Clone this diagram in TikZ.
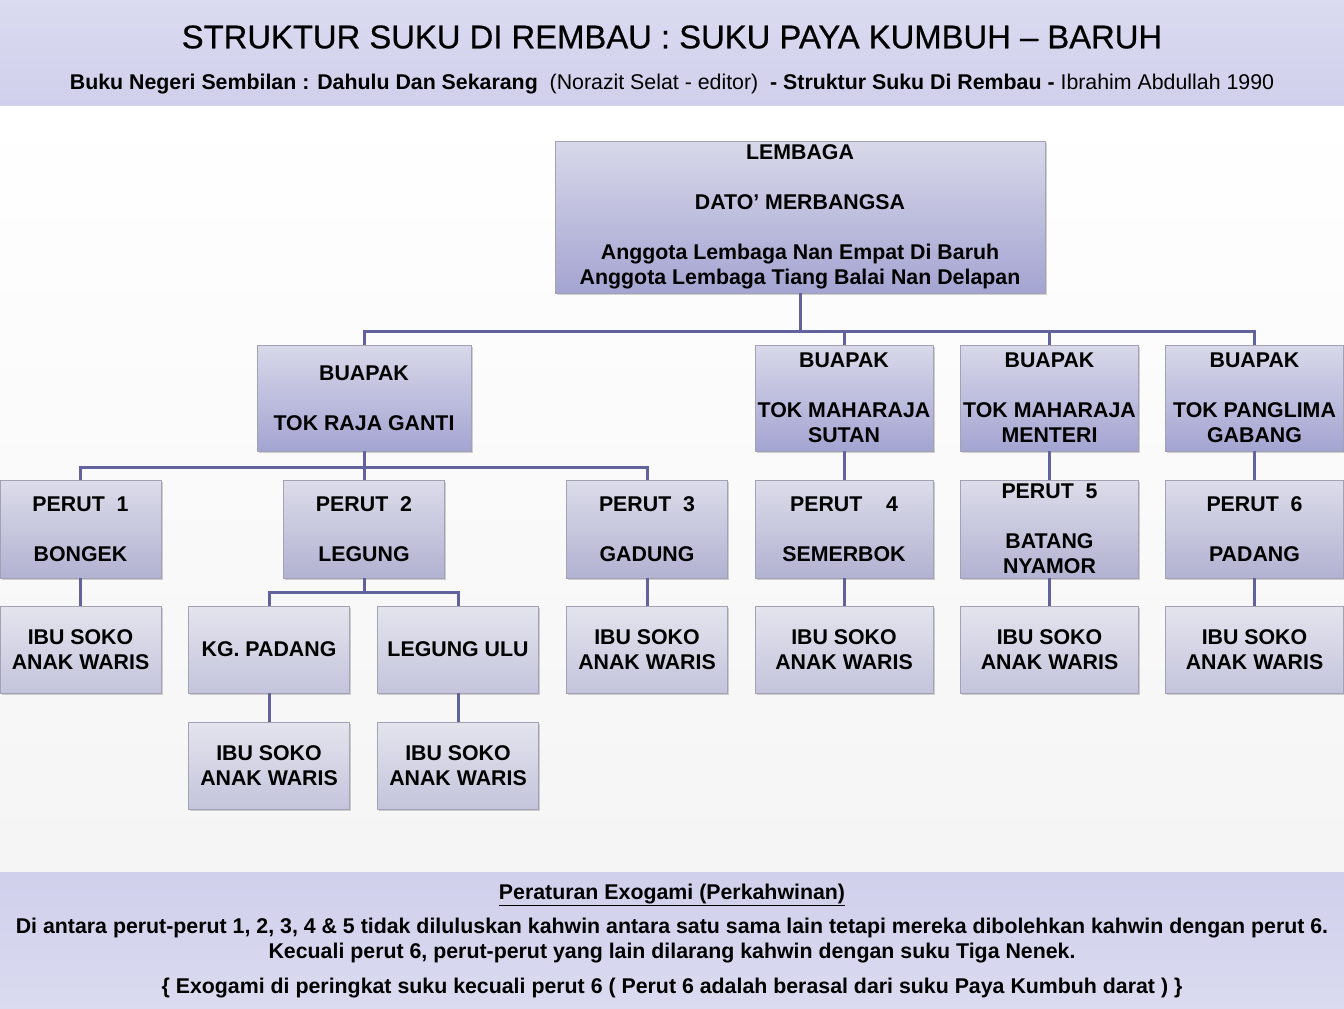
\documentclass[tikz,border=0pt]{standalone}
\usepackage{fontspec}
\setmainfont{Liberation Sans}
\usetikzlibrary{shadows}
\definecolor{band}{HTML}{D0D0EC}
\definecolor{bandtop}{HTML}{DADAF0}
\definecolor{linkcol}{HTML}{62629C}
\definecolor{edge}{HTML}{A2A2B4}
\definecolor{upTop}{HTML}{D8D8EA}
\definecolor{upBot}{HTML}{A4A4D2}
\definecolor{midTop}{HTML}{DCDCEA}
\definecolor{midBot}{HTML}{B2B2D2}
\definecolor{lowTop}{HTML}{E4E4EE}
\definecolor{lowBot}{HTML}{C4C4DC}
\begin{document}
\begin{tikzpicture}[
  x=0.75pt, y=-0.75pt,
  box/.style={rectangle, draw=edge, line width=0.6pt, align=center, inner sep=0pt,
    font=\fontsize{16}{18.75}\selectfont\bfseries,
    drop shadow={shadow xshift=1.2pt, shadow yshift=-1.2pt, opacity=0.35}},
  upper/.style={box, top color=upTop, bottom color=upBot},
  middle/.style={box, top color=midTop, bottom color=midBot},
  lower/.style={box, top color=lowTop, bottom color=lowBot},
  wide/.style={minimum width=133.5pt},
  narrow/.style={minimum width=120.75pt},
  link/.style={draw=linkcol, line width=2.25pt},
  rule/.style={font=\fontsize{16}{19}\selectfont\bfseries}
]
  % bands and page
  \useasboundingbox (0,0) rectangle (1344,1008);
  \shade[top color=white, bottom color=black!4] (0,105) rectangle (1344,872);
  \shade[top color=bandtop, bottom color=band] (0,0) rectangle (1344,105);
  \shade[top color=band, bottom color=bandtop] (0,872) rectangle (1344,1008);

  \node (title) at (672,37) {\fontsize{24.6}{28}\selectfont\addfontfeature{FakeBold=0.6}STRUKTUR SUKU DI REMBAU : SUKU PAYA KUMBUH -- BARUH};
  \node (src) at (672,84) {\fontsize{16}{19}\selectfont \textbf{Buku Negeri Sembilan : Dahulu Dan Sekarang}\ \ (Norazit Selat - editor)\ \ \textbf{- Struktur Suku Di Rembau -} Ibrahim Abdullah 1990};

  % top
  \node[upper, minimum width=367.5pt, minimum height=114pt] (lem) at (800,217)
    {LEMBAGA\\[18.75pt] DATO’ MERBANGSA\\[18.75pt] Anggota Lembaga Nan Empat Di Baruh\\ Anggota Lembaga Tiang Balai Nan Delapan};

  % buapak
  \node[upper, minimum width=160.5pt, minimum height=79.5pt] (bp1) at (364,398) {BUAPAK\\[18.75pt] TOK RAJA GANTI};
  \node[upper, wide, minimum height=79.5pt] (bp2) at (844,398) {BUAPAK\\[18.75pt] TOK MAHARAJA\\ SUTAN};
  \node[upper, wide, minimum height=79.5pt] (bp3) at (1049.5,398) {BUAPAK\\[18.75pt] TOK MAHARAJA\\ MENTERI};
  \node[upper, wide, minimum height=79.5pt] (bp4) at (1254.5,398) {BUAPAK\\[18.75pt] TOK PANGLIMA\\ GABANG};

  % perut
  \node[middle, narrow, minimum height=73.5pt] (pr1) at (80.5,529) {PERUT\ \ 1\\[18.75pt] BONGEK};
  \node[middle, narrow, minimum height=73.5pt] (pr2) at (364,529) {PERUT\ \ 2\\[18.75pt] LEGUNG};
  \node[middle, narrow, minimum height=73.5pt] (pr3) at (647,529) {PERUT\ \ 3\\[18.75pt] GADUNG};
  \node[middle, wide, minimum height=73.5pt] (pr4) at (844,529) {PERUT\ \ \ \ 4\\[18.75pt] SEMERBOK};
  \node[middle, wide, minimum height=73.5pt] (pr5) at (1049.5,529) {PERUT\ \ 5\\[18.75pt] BATANG\\ NYAMOR};
  \node[middle, wide, minimum height=73.5pt] (pr6) at (1254.5,529) {PERUT\ \ 6\\[18.75pt] PADANG};

  % kampung under perut 2
  \node[lower, narrow, minimum height=65.25pt] (kg) at (269,649.5) {KG. PADANG};
  \node[lower, narrow, minimum height=65.25pt] (lu) at (458,649.5) {LEGUNG ULU};

  % ibu soko
  \node[lower, narrow, minimum height=65.25pt] (ib1) at (80.5,649.5) {IBU SOKO\\ ANAK WARIS};
  \node[lower, narrow, minimum height=65.25pt] (ibk) at (269,765.5) {IBU SOKO\\ ANAK WARIS};
  \node[lower, narrow, minimum height=65.25pt] (ibl) at (458,765.5) {IBU SOKO\\ ANAK WARIS};
  \node[lower, narrow, minimum height=65.25pt] (ib3) at (647,649.5) {IBU SOKO\\ ANAK WARIS};
  \node[lower, wide, minimum height=65.25pt] (ib4) at (844,649.5) {IBU SOKO\\ ANAK WARIS};
  \node[lower, wide, minimum height=65.25pt] (ib5) at (1049.5,649.5) {IBU SOKO\\ ANAK WARIS};
  \node[lower, wide, minimum height=65.25pt] (ib6) at (1254.5,649.5) {IBU SOKO\\ ANAK WARIS};

  % junctions
  \coordinate (j0) at (800,331);
  \coordinate (j1) at (364,467);
  \coordinate (j2) at (364,592);

  \draw[link] (lem.south) -- (j0);
  \draw[link] (j0) -| (bp1.north);
  \draw[link] (j0) -| (bp2.north);
  \draw[link] (j0) -| (bp3.north);
  \draw[link] (j0) -| (bp4.north);
  \draw[link] (bp1.south) -- (j1);
  \draw[link] (j1) -| (pr1.north);
  \draw[link] (j1) -- (pr2.north);
  \draw[link] (j1) -| (pr3.north);
  \draw[link] (bp2) -- (pr4);
  \draw[link] (bp3) -- (pr5);
  \draw[link] (bp4) -- (pr6);
  \draw[link] (pr2.south) -- (j2);
  \draw[link] (j2) -| (kg.north);
  \draw[link] (j2) -| (lu.north);
  \draw[link] (pr1) -- (ib1);
  \draw[link] (kg) -- (ibk);
  \draw[link] (lu) -- (ibl);
  \draw[link] (pr3) -- (ib3);
  \draw[link] (pr4) -- (ib4);
  \draw[link] (pr5) -- (ib5);
  \draw[link] (pr6) -- (ib6);

  % rules
  \node[rule] (rt) at (672,895) {\underline{Peraturan Exogami (Perkahwinan)}};
  \node[rule] (r1) at (672,928) {Di antara perut-perut 1, 2, 3, 4 \& 5 tidak diluluskan kahwin antara satu sama lain tetapi mereka dibolehkan kahwin dengan perut 6.};
  \node[rule] (r2) at (672,953) {Kecuali perut 6, perut-perut yang lain dilarang kahwin dengan suku Tiga Nenek.};
  \node[rule] (r3) at (672,988) {\{ Exogami di peringkat suku kecuali perut 6 ( Perut 6 adalah berasal dari suku Paya Kumbuh darat ) \}};
\end{tikzpicture}
\end{document}
